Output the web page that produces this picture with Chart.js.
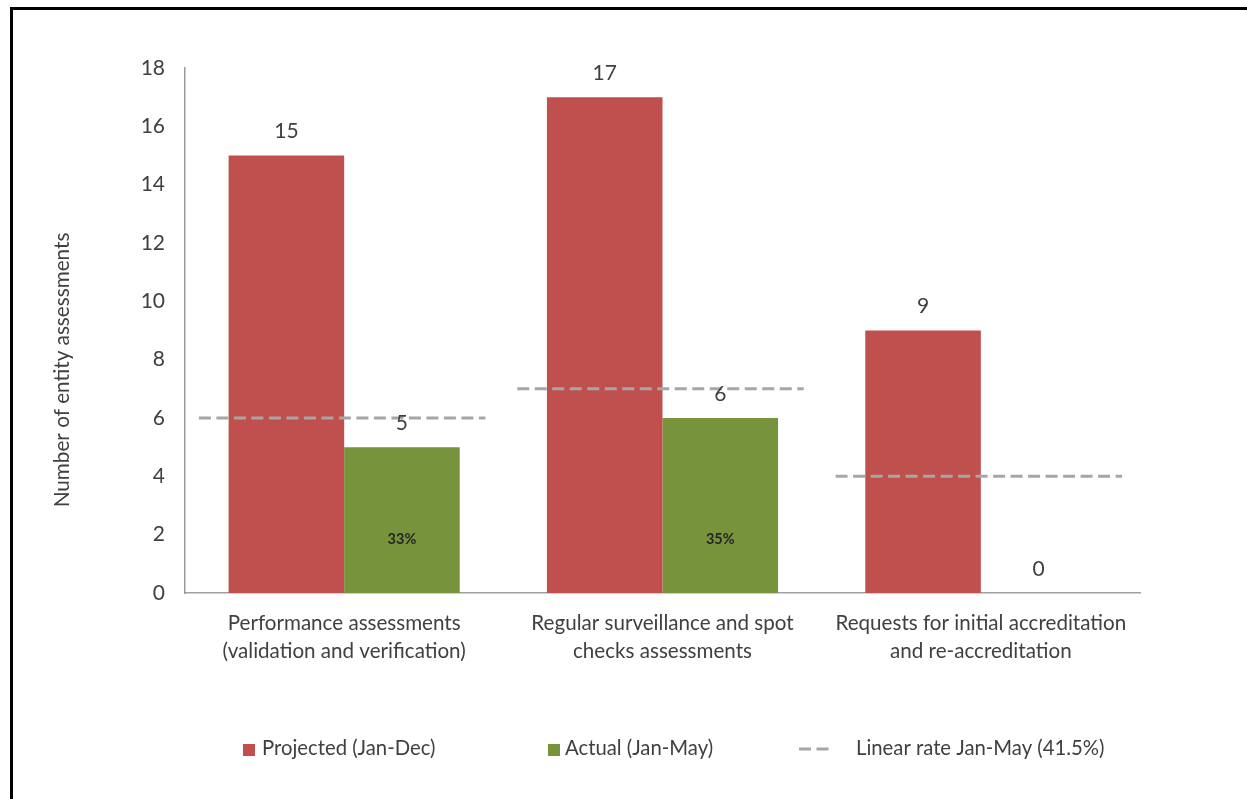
<!DOCTYPE html>
<html>
<head>
<meta charset="utf-8">
<title>Entity assessments</title>
<script src="https://cdn.jsdelivr.net/npm/chart.js@4.4.0/dist/chart.umd.min.js"></script>
<style>
  html, body { margin: 0; padding: 0; background: #fff; overflow: hidden; }
  #frame {
    position: absolute; left: 10px; top: 7px;
    width: 1234px; height: 789px;
    border-left: 3px solid #000; border-top: 3px solid #000;
  }
  canvas { display: block; }
</style>
</head>
<body>
<div id="frame"><canvas id="assessments-chart" width="1234" height="789"></canvas></div>
<script>
// categories and series
const categories = [
  ['Performance assessments', '(validation and verification)'],
  ['Regular surveillance and spot', 'checks assessments'],
  ['Requests for initial accreditation', 'and re-accreditation']
];
const projected = [15, 17, 9];
const actual = [5, 6, 0];
const linearRate = [6, 7, 4];
const seriesNames = ['Projected (Jan-Dec)', 'Actual (Jan-May)', 'Linear rate Jan-May (41.5%)'];
const yMax = 18;
const yStep = 2;

const RED = '#C0504D';
const GREEN = '#77933C';
const DASH_GREY = '#A6A6A6';
const TEXT = '#404040';
const FONT = 'Lato, "Liberation Sans", sans-serif';

// dashed rate lines, value labels, percentages
const overlay = {
  id: 'overlay',
  afterDatasetsDraw(chart) {
    const { ctx, scales: { x, y } } = chart;
    const catWidth = x.width / chart.data.labels.length;
    ctx.save();

    // linear rate: one dashed segment per category
    const rate = chart.data.datasets[2];
    ctx.strokeStyle = rate.borderColor;
    ctx.lineWidth = 3;
    ctx.setLineDash([12, 5.5]);
    rate.data.forEach((v, i) => {
      const cx = x.getPixelForValue(i) - 2;
      const py = y.getPixelForValue(v);
      ctx.beginPath();
      ctx.moveTo(cx - catWidth * 0.45, py);
      ctx.lineTo(cx + catWidth * 0.45, py);
      ctx.stroke();
    });
    ctx.setLineDash([]);

    // numbers above bars
    ctx.fillStyle = TEXT;
    ctx.font = '21px ' + FONT;
    ctx.textAlign = 'center';
    ctx.textBaseline = 'middle';
    [0, 1].forEach(d => {
      chart.getDatasetMeta(d).data.forEach((bar, i) => {
        ctx.fillText(chart.data.datasets[d].data[i], bar.x, bar.y - 24);
      });
    });

    // actual as share of projected, inside the green bars
    ctx.font = 'bold 14.5px ' + FONT;
    ctx.fillStyle = '#262626';
    const base = y.getPixelForValue(0);
    chart.getDatasetMeta(1).data.forEach((bar, i) => {
      if (!actual[i]) return;
      const pct = Math.round(actual[i] / projected[i] * 100);
      ctx.fillText(pct + '%', bar.x, base - 54);
    });
    ctx.restore();
  },
  afterDraw(chart) {
    const { ctx } = chart;
    ctx.save();

    // y axis title
    ctx.translate(49, 360);
    ctx.rotate(-Math.PI / 2);
    ctx.fillStyle = TEXT;
    ctx.font = '20.7px ' + FONT;
    ctx.textAlign = 'center';
    ctx.textBaseline = 'middle';
    ctx.fillText('Number of entity assessments', 0, 0);
    ctx.setTransform(1, 0, 0, 1, 0, 0);

    // legend row
    const ly = 738;
    const items = [
      { x: 230, textX: 249, kind: 'box', color: RED },
      { x: 535, textX: 552, kind: 'box', color: GREEN },
      { x: 786, textX: 843, kind: 'dash', color: DASH_GREY }
    ];
    ctx.font = '20.3px ' + FONT;
    ctx.textAlign = 'left';
    ctx.textBaseline = 'middle';
    items.forEach((it, i) => {
      if (it.kind === 'box') {
        ctx.fillStyle = it.color;
        ctx.fillRect(it.x, ly - 4, 12, 12);
      } else {
        ctx.strokeStyle = it.color;
        ctx.lineWidth = 3;
        ctx.setLineDash([12, 5.5]);
        ctx.beginPath();
        ctx.moveTo(it.x, ly + 1);
        ctx.lineTo(it.x + 29.5, ly + 1);
        ctx.stroke();
        ctx.setLineDash([]);
      }
      ctx.fillStyle = TEXT;
      ctx.fillText(chart.data.datasets[i].label, it.textX, ly);
    });
    ctx.restore();
  }
};

const ctx = document.getElementById('assessments-chart').getContext('2d');
new Chart(ctx, {
  type: 'bar',
  data: {
    labels: categories,
    datasets: [
      {
        label: seriesNames[0],
        data: projected,
        backgroundColor: RED,
        categoryPercentage: 0.726,
        barPercentage: 1
      },
      {
        label: seriesNames[1],
        data: actual,
        backgroundColor: GREEN,
        categoryPercentage: 0.726,
        barPercentage: 1
      },
      {
        type: 'line',
        label: seriesNames[2],
        data: linearRate,
        borderColor: DASH_GREY,
        showLine: false,
        pointRadius: 0
      }
    ]
  },
  options: {
    responsive: false,
    animation: false,
    layout: { padding: { left: 37, right: 107, top: 58, bottom: 106 } },
    scales: {
      x: {
        grid: { display: false, drawTicks: false },
        border: { display: true, color: '#A0A0A0', width: 1.5 },
        ticks: {
          color: TEXT,
          font: { family: FONT, size: 20.6, lineHeight: 1.36 },
          padding: 16,
          maxRotation: 0,
          autoSkip: false
        },
        afterFit(scale) { scale.height = 100; }
      },
      y: {
        min: 0,
        max: yMax,
        grid: { display: false, drawTicks: false },
        border: { display: true, color: '#9A9A9A', width: 1.5 },
        ticks: {
          stepSize: yStep,
          color: TEXT,
          font: { family: FONT, size: 21 },
          padding: 20
        },
        afterFit(scale) { scale.width = 135; }
      }
    },
    plugins: {
      legend: { display: false },
      tooltip: { enabled: false }
    }
  },
  plugins: [overlay]
});
</script>
</body>
</html>
